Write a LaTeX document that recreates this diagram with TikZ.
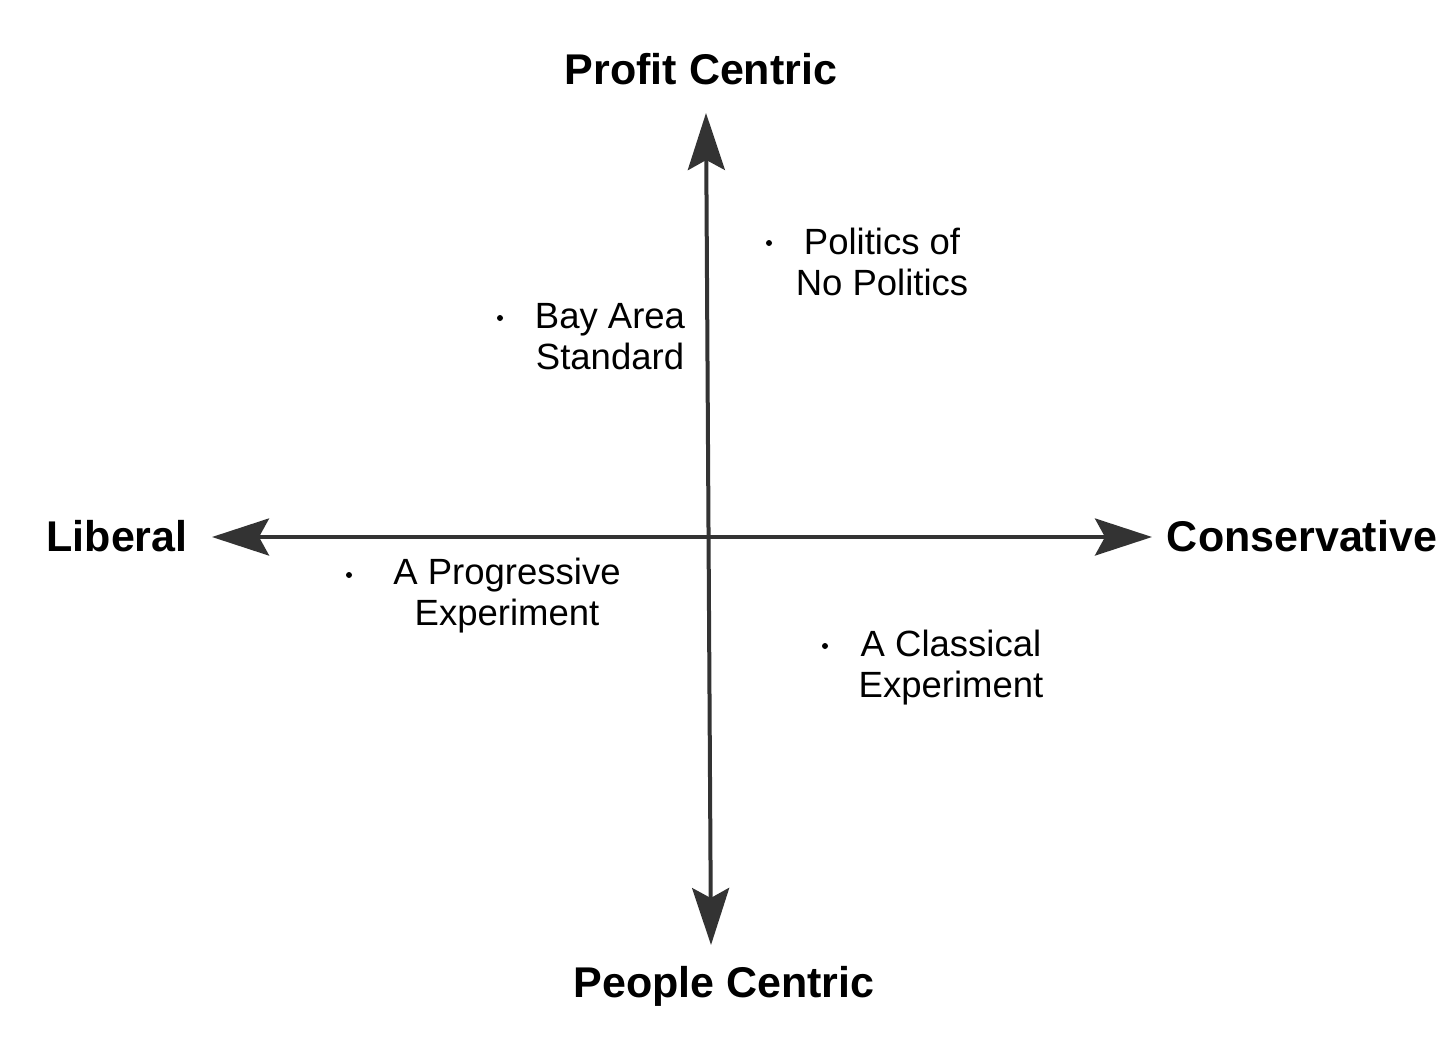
\documentclass[tikz,border=0pt]{standalone}
\usepackage{fontspec}
\setmainfont{Liberation Sans}
\usetikzlibrary{arrows.meta}
\definecolor{axisgray}{HTML}{333333}

\begin{document}
\begin{tikzpicture}[x=1pt,y=-1pt]
\tikzstyle{every node}+=[inner sep=0pt]
\tikzstyle{axis}=[axisgray, line width=4pt, {Stealth[length=57pt,width=37pt,inset=10pt]}-{Stealth[length=57pt,width=37pt,inset=10pt]}]
\tikzstyle{pole}=[font=\fontsize{43}{48}\selectfont\bfseries, anchor=base]
\tikzstyle{item}=[font=\fontsize{36.5}{41}\selectfont, align=center, anchor=base]
\tikzstyle{dot}=[circle, fill=black, minimum size=6pt]
\useasboundingbox (0,0) rectangle (1456,1055);
% axes
\coordinate (lib) at (212,537);
\coordinate (con) at (1152,537);
\coordinate (pro) at (706,113);
\coordinate (peo) at (711,945);
\draw [axis] (lib) -- (con);
\draw [axis] (peo) -- (pro);
% poles
\node [pole] (profit) at (701,84) {Profit Centric};
\node [pole] (people) at (724,997) {People Centric};
\node [pole] (liberal) at (117,551) {Liberal};
\node [pole] (conservative) at (1302,551) {Conservative};
% items
\node [dot] (d1) at (769,243) {};
\node [item] (nopol) at (882,295) {Politics of\\No Politics};
\node [dot] (d2) at (500,318) {};
\node [item] (bay) at (610,369) {Bay Area\\Standard};
\node [dot] (d3) at (349,575) {};
\node [item] (prog) at (507,625) {A Progressive\\Experiment};
\node [dot] (d4) at (825,646) {};
\node [item] (class) at (951,697) {A Classical\\Experiment};
\end{tikzpicture}
\end{document}
